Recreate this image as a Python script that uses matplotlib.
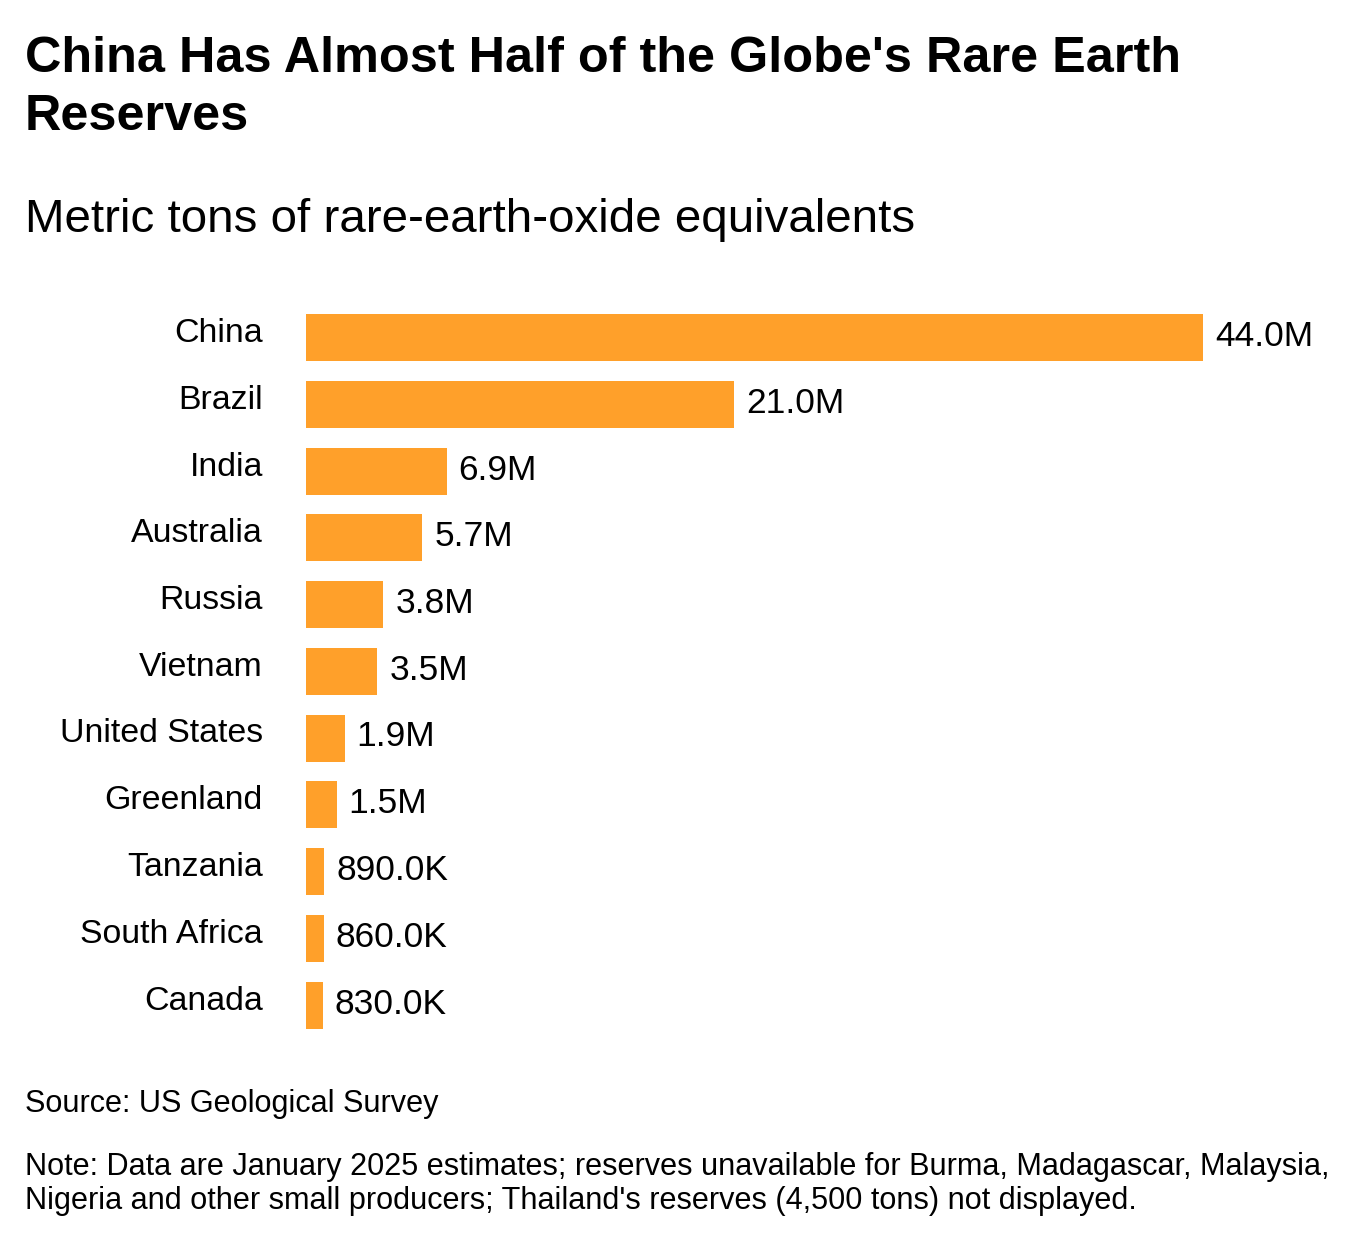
import matplotlib
matplotlib.use('Agg')
import matplotlib.pyplot as plt

countries = ['China', 'Brazil', 'India', 'Australia', 'Russia', 'Vietnam',
             'United States', 'Greenland', 'Tanzania', 'South Africa', 'Canada']
reserves_m = [44.0, 21.0, 6.9, 5.7, 3.8, 3.5, 1.9, 1.5, 0.89, 0.86, 0.83]
value_labels = ['44.0M', '21.0M', '6.9M', '5.7M', '3.8M', '3.5M',
                '1.9M', '1.5M', '890.0K', '860.0K', '830.0K']

plt.rcParams['font.family'] = ['Liberation Sans', 'DejaVu Sans']

W, H = 1349, 1236
fig = plt.figure(figsize=(W / 100, H / 100), dpi=100)


def fx(x):
    return x / W


def fy(y):
    return 1 - y / H


# axes spans bar area: x from 306px, rows centred 337..1005px
row = (1005 - 337.5) / 10
top = 337.5 - row / 2
bottom = 1005 + row / 2
ax_left, ax_right = 306, 1349
ax = fig.add_axes([fx(ax_left), fy(bottom), fx(ax_right - ax_left), (bottom - top) / H])
px_per_m = (1203 - 306) / 44.0
ax.set_xlim(0, (ax_right - ax_left) / px_per_m)
ax.set_ylim(len(countries) - 0.5, -0.5)

y = list(range(len(countries)))
ax.barh(y, reserves_m, height=47 / row, color='#ffa02a', edgecolor='none')

for i, (c, v, lab) in enumerate(zip(countries, reserves_m, value_labels)):
    ax.text(-43 / px_per_m, i + 4.5 / row, c, ha='right', va='baseline',
            fontsize=24.4, color='#000000', clip_on=False)
    ax.text(v + 12 / px_per_m, i + 8.5 / row, lab, ha='left', va='baseline',
            fontsize=25.5, color='#000000', clip_on=False)

ax.axis('off')

fig.text(fx(25), fy(72), "China Has Almost Half of the Globe's Rare Earth",
         fontsize=36.3, fontweight='bold', ha='left', va='baseline')
fig.text(fx(25), fy(130), "Reserves",
         fontsize=36.3, fontweight='bold', ha='left', va='baseline')
fig.text(fx(25), fy(231.5), "Metric tons of rare-earth-oxide equivalents",
         fontsize=34.2, ha='left', va='baseline')

fig.text(fx(25), fy(1112), "Source: US Geological Survey",
         fontsize=22.1, ha='left', va='baseline')
fig.text(fx(25), fy(1175),
         "Note: Data are January 2025 estimates; reserves unavailable for Burma, Madagascar, Malaysia,",
         fontsize=22.1, ha='left', va='baseline')
fig.text(fx(25), fy(1209),
         "Nigeria and other small producers; Thailand's reserves (4,500 tons) not displayed.",
         fontsize=22.1, ha='left', va='baseline')

fig.savefig('out.png', dpi=100, facecolor='white')
